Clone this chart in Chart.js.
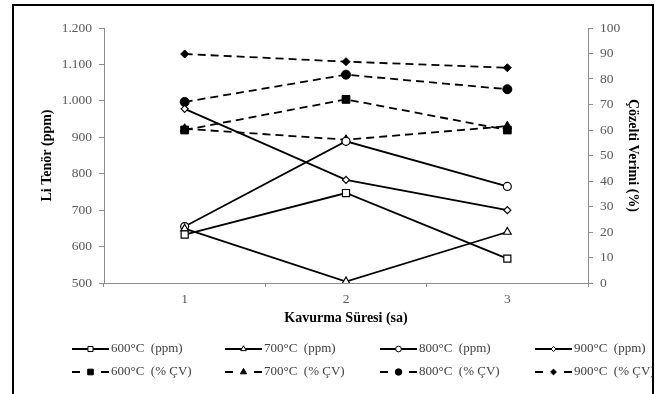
<!DOCTYPE html>
<html>
<head>
<meta charset="utf-8">
<script src="https://cdn.jsdelivr.net/npm/chart.js@4"></script>
<style>
  body { margin: 0; background: #fff; }
  #wrap { position: relative; width: 666px; height: 394px; }
  #frame { position: absolute; left: 12px; top: 4px; width: 638px; height: 420px;
           border: 2px solid #000; pointer-events: none; }
</style>
</head>
<body>
<div id="wrap">
  <canvas id="chart" width="666" height="394"></canvas>
  <div id="frame"></div>
</div>
<script>
// roasting time (h)
const categories = ['1', '2', '3'];

// Li grade (ppm), left axis
const ppm600 = [633, 747, 567];
const ppm700 = [649, 504, 640];
const ppm800 = [655, 889, 765];
const ppm900 = [978, 783, 700];

// solution yield (%), right axis
const cv600 = [60, 72, 60];
const cv700 = [60.5, 56.2, 61.5];
const cv800 = [71, 81.7, 76];
const cv900 = [89.8, 86.8, 84.4];

const seriesLabels = [
  '600\u00B0C  (ppm)', '700\u00B0C  (ppm)', '800\u00B0C  (ppm)', '900\u00B0C  (ppm)',
  '600\u00B0C  (% \u00C7V)', '700\u00B0C  (% \u00C7V)', '800\u00B0C  (% \u00C7V)', '900\u00B0C  (% \u00C7V)'
];

const serif = "'Liberation Serif', 'Times New Roman', serif";
const dash = [8, 5];

function ppmSet(label, data, style, r) {
  return {
    label: label, data: data, yAxisID: 'y',
    borderColor: '#000', borderWidth: 1.8,
    pointStyle: style, pointRadius: r, pointBorderWidth: 1.2,
    pointBackgroundColor: '#fff', pointBorderColor: '#000'
  };
}
function cvSet(label, data, style, r) {
  return {
    label: label, data: data, yAxisID: 'y1',
    borderColor: '#000', borderWidth: 1.8, borderDash: dash,
    pointStyle: style, pointRadius: r, pointBorderWidth: 1,
    pointBackgroundColor: '#000', pointBorderColor: '#000'
  };
}

// legend drawn as a 4 x 2 grid under the chart
const legendCols = [72, 225, 380, 535];
const legendRows = [349, 372];
const gridLegend = {
  id: 'gridLegend',
  afterDraw(chart) {
    const ctx = chart.ctx;
    ctx.save();
    chart.data.datasets.forEach((ds, i) => {
      const x0 = legendCols[i % 4];
      const y = legendRows[Math.floor(i / 4)];
      const x1 = x0 + 37;
      ctx.strokeStyle = '#000';
      ctx.lineWidth = 1.8;
      ctx.setLineDash(ds.borderDash ? [8, 21] : []);
      ctx.beginPath();
      ctx.moveTo(x0, y);
      ctx.lineTo(x1, y);
      ctx.stroke();
      ctx.setLineDash([]);
      ctx.fillStyle = ds.pointBackgroundColor;
      ctx.lineWidth = 1;
      Chart.helpers.drawPoint(ctx, {
        pointStyle: ds.pointStyle, radius: ds.pointRadius * 0.72, borderWidth: 1
      }, (x0 + x1) / 2, y);
      ctx.fillStyle = '#404040';
      ctx.font = '13px ' + serif;
      ctx.textBaseline = 'middle';
      ctx.textAlign = 'left';
      ctx.fillText(ds.label, x1 + 2, y);
    });
    ctx.restore();
  }
};

function fmtThousands(v) {
  if (v >= 1000) return Math.floor(v / 1000) + '.' + String(v % 1000).padStart(3, '0');
  return String(v);
}

const axisGrey = '#8c8c8c';
const tickFont = { family: serif, size: 13.5 };
const titleFont = { family: serif, size: 14, weight: 'bold' };

new Chart(document.getElementById('chart'), {
  type: 'line',
  data: {
    labels: categories,
    datasets: [
      ppmSet(seriesLabels[0], ppm600, 'rect', 5),
      ppmSet(seriesLabels[1], ppm700, 'triangle', 4.5),
      ppmSet(seriesLabels[2], ppm800, 'circle', 4),
      ppmSet(seriesLabels[3], ppm900, 'rectRot', 3.5),
      cvSet(seriesLabels[4], cv600, 'rect', 5.5),
      cvSet(seriesLabels[5], cv700, 'triangle', 5),
      cvSet(seriesLabels[6], cv800, 'circle', 4.5),
      cvSet(seriesLabels[7], cv900, 'rectRot', 4)
    ]
  },
  plugins: [gridLegend],
  options: {
    responsive: false,
    animation: false,
    layout: { padding: { top: 28, bottom: 61, left: 0, right: 0 } },
    plugins: { legend: { display: false }, tooltip: { enabled: false } },
    elements: { line: { tension: 0 } },
    scales: {
      x: {
        offset: true,
        afterFit(s) { s.height = 50; },
        border: { color: axisGrey, width: 1 },
        grid: { drawOnChartArea: false, drawTicks: true, tickLength: 4, color: axisGrey, offset: true },
        ticks: { font: tickFont, color: '#595959', padding: 4 },
        title: { display: true, text: 'Kavurma S\u00FCresi (sa)', font: titleFont, color: '#000',
                 padding: { top: 0, bottom: 6 } }
      },
      y: {
        position: 'left',
        min: 500, max: 1200,
        afterFit(s) { s.width = 104; },
        border: { color: axisGrey, width: 1 },
        grid: { drawOnChartArea: false, drawTicks: true, tickLength: 5, color: axisGrey },
        ticks: { stepSize: 100, font: tickFont, color: '#595959', padding: 7,
                 callback: v => fmtThousands(v) },
        title: { display: true, text: 'Li Ten\u00F6r (ppm)', font: titleFont, color: '#000',
                 padding: { top: 39, bottom: 0 } }
      },
      y1: {
        position: 'right',
        min: 0, max: 100,
        afterFit(s) { s.width = 78; },
        border: { color: axisGrey, width: 1 },
        grid: { drawOnChartArea: false, drawTicks: true, tickLength: 5, color: axisGrey },
        ticks: { stepSize: 10, font: tickFont, color: '#595959', padding: 7 },
        title: { display: true, text: '\u00C7\u00F6zelti Verimi (%)', font: titleFont, color: '#000',
                 padding: { top: 25, bottom: 0 } }
      }
    }
  }
});
</script>
</body>
</html>
